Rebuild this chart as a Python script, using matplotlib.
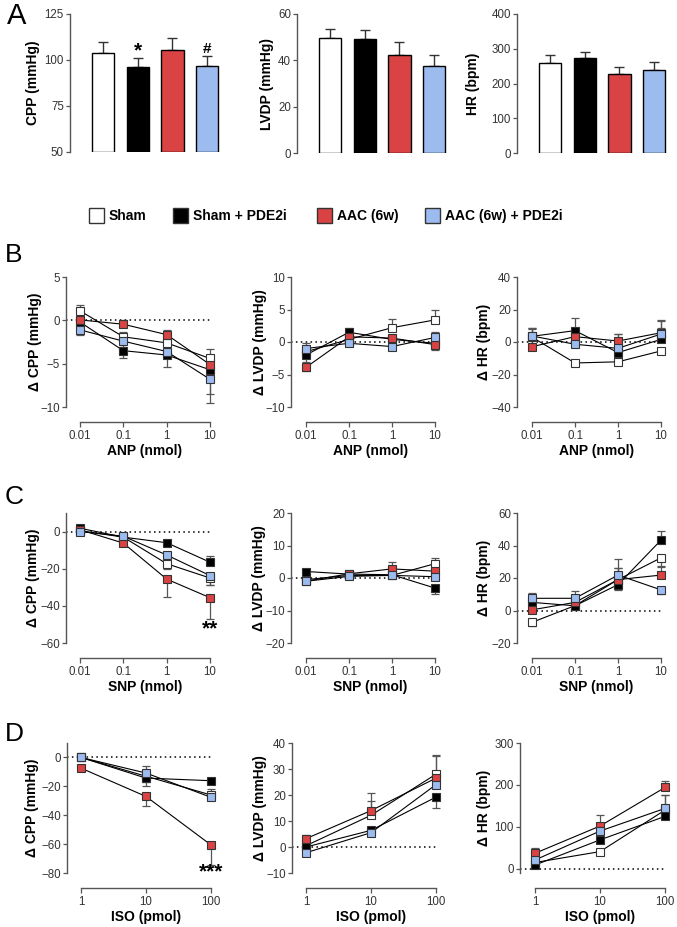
import numpy as np
import matplotlib
matplotlib.use('Agg')
import matplotlib.pyplot as plt
from matplotlib.patches import Rectangle

plt.rcParams['font.family'] = ['Liberation Sans', 'DejaVu Sans']

# ---------------- data ----------------
groups = ['Sham', 'Sham + PDE2i', 'AAC (6w)', 'AAC (6w) + PDE2i']
colors = ['#ffffff', '#000000', '#d94343', '#9cbcf0']

# Panel A (baseline), mean and SEM
A_cpp = [104, 96, 105.5, 96.5]
A_cpp_sem = [6, 5, 6.5, 5.5]
A_lvdp = [49.5, 49, 42.5, 37.5]
A_lvdp_sem = [4, 4, 5.5, 5]
A_hr = [258, 272, 226, 240]
A_hr_sem = [25, 18, 22, 22]

anp_doses = [0.01, 0.1, 1, 10]
snp_doses = [0.01, 0.1, 1, 10]
iso_doses = [1, 10, 100]
nmol_labels = ['0.01', '0.1', '1', '10']
pmol_labels = ['1', '10', '100']

# signed error: positive = bar drawn upward, negative = downward
# Panel B: ANP
B_cpp = [[1.1, -1.9, -2.6, -4.4], [-0.2, -3.5, -4.0, -5.7],
         [0.05, -0.45, -1.65, -5.1], [-1.1, -2.4, -3.6, -6.8]]
B_cpp_err = [[0.7, 0.6, 0.6, 1.1], [-0.5, -0.9, -1.4, -2.8],
             [0.4, 0.5, 0.5, 0.6], [-0.6, -0.7, -0.8, -2.7]]
B_lvdp = [[-1.5, 0.4, 2.2, 3.4], [-2.0, 1.5, 0.4, -0.2],
          [-3.9, 0.8, 0.6, -0.4], [-1.0, -0.2, -0.7, 0.7]]
B_lvdp_err = [[0.6, 0.5, 1.3, 1.6], [-1.0, 0.6, 0.5, -0.7],
              [-0.6, 0.5, 0.5, -0.8], [0.8, 0.4, -0.5, 0.9]]
B_hr = [[3.0, -12.9, -12.2, -5.5], [3.5, 7.0, -6.5, 1.6],
        [-2.9, 3.3, 0.6, 5.7], [3.7, -1.4, -3.9, 4.9]]
B_hr_err = [[5, 1.5, 1.5, 2], [5, 7.5, -2, 7],
            [-1.5, 5, 4.5, 7.5], [5, 3, 9, 8.5]]

# Panel C: SNP
C_cpp = [[0.5, -3.0, -17.3, -25.0], [1.8, -3.0, -6.0, -16.5],
         [1.0, -6.2, -25.6, -35.6], [0.0, -2.5, -12.6, -23.7]]
C_cpp_err = [[0.8, -1.0, -3.0, -4.0], [0.7, -0.8, -1.5, 3.5],
             [0.8, -1.0, -9.6, -11.6], [-1.0, -1.0, -3.5, -5.0]]
C_lvdp = [[-0.5, 0.8, 0.8, 4.4], [2.0, 1.2, 1.0, -3.1],
          [-1.0, 1.3, 2.8, 2.1], [-1.0, 0.5, 0.8, 0.4]]
C_lvdp_err = [[0.6, 0.5, 0.6, 1.7], [0.6, 0.5, 0.6, -1.8],
              [-0.6, 0.5, 2.0, 1.0], [-0.6, 0.5, -0.6, -0.5]]
C_hr = [[-7.3, 3.0, 19.0, 32.4], [5.0, 2.9, 15.9, 43.3],
        [0.4, 5.0, 19.0, 21.8], [7.5, 7.5, 21.8, 12.7]]
C_hr_err = [[-2.5, 2, 7, -5], [3, -1.5, -3.5, 5.5],
            [3, 3, 7, 5], [3.5, 4.5, 10, -2.5]]

# Panel D: ISO
D_cpp = [[0.0, -13.0, -26.0], [0.0, -14.3, -16.1],
         [-7.4, -27.0, -60.6], [0.0, -10.8, -27.6]]
D_cpp_err = [[-0.8, -7.0, 4.0], [-0.8, -3.0, -1.5],
             [-1.0, -6.4, -13.6], [0.8, 4.8, 3.0]]
D_lvdp = [[0.5, 12.2, 28.0], [0.0, 6.4, 19.2],
          [3.2, 14.0, 26.5], [-2.2, 5.5, 24.0]]
D_lvdp_err = [[1, 5.5, 7.5], [1, -1.0, -4.1],
              [1.5, 6.9, 8.5], [-1, -1, 5]]
D_hr = [[15, 41, 140], [9, 69, 125], [37, 102, 194], [21, 90, 144]]
D_hr_err = [[4, -5, 35], [-3, -8, -5], [13, 26, 15], [5, 10, 33]]

# ---------------- figure ----------------
W, H = 677, 927
fig = plt.figure(figsize=(W / 100, H / 100), dpi=100)
PT = 0.72  # points per pixel
SPINE_C = '#555555'
TEXT_C = '#333333'


def px_axes(l, t, r, b):
    return fig.add_axes([l / W, 1 - b / H, (r - l) / W, (b - t) / H])


def style_y(ax):
    ax.tick_params(axis='y', length=4 * PT, width=0.9, color=SPINE_C,
                   labelsize=8.3, labelcolor=TEXT_C, pad=1.5)
    ax.spines['left'].set_color(SPINE_C)
    ax.spines['left'].set_linewidth(1.0)
    for s in ['top', 'right']:
        ax.spines[s].set_visible(False)


def bar_panel(l, t, b, vals, sems, ylim, yticks, ylabel, label_x):
    spacing = 34.7
    first = 33
    r = l + 160
    ax = px_axes(l, t, r, b)
    x = np.arange(len(vals))
    ax.set_xlim(-first / spacing, (r - l - first) / spacing)
    ax.set_ylim(*ylim)
    heights = np.array(vals) - ylim[0]
    ax.bar(x, heights, bottom=ylim[0], width=0.64, color=colors,
           edgecolor='black', linewidth=1.0, zorder=3)
    ax.errorbar(x, vals, yerr=[np.zeros(len(vals)), sems], fmt='none',
                ecolor='#333333', elinewidth=1.0, capsize=3.6, capthick=1.0,
                zorder=2, clip_on=False)
    ax.set_yticks(yticks)
    style_y(ax)
    ax.spines['bottom'].set_visible(False)
    ax.set_xticks([])
    ax.set_ylabel(ylabel, fontsize=10, fontweight='bold', va='center')
    ax.yaxis.set_label_coords((label_x - l) / (r - l), 0.5)
    ax.patch.set_alpha(0)
    return ax


def line_panel(l, t, b, x0, x1, axis_y, doses, xlabels, ylim, yticks,
               series, errs, ylabel, xlabel, label_x):
    r = x1 + 12
    ax = px_axes(l, t, r, b)
    ld = np.log10(doses)
    ppd = (x1 - x0) / (ld[-1] - ld[0])
    xl = 10 ** (ld[0] - (x0 - l) / ppd)
    xr = 10 ** (ld[-1] + (r - x1) / ppd)
    ax.set_xscale('log')
    ax.set_xlim(xl, xr)
    ax.set_ylim(*ylim)
    ax.plot([xl, doses[-1]], [0, 0], ls=(0, (1, 2.2)), color='black',
            lw=1.1, zorder=1)
    for i, (vals, e) in enumerate(zip(series, errs)):
        e = np.array(e, dtype=float)
        lo = np.where(e < 0, -e, 0)
        hi = np.where(e > 0, e, 0)
        ax.errorbar(doses, vals, yerr=[lo, hi], fmt='none', ecolor='#555555',
                    elinewidth=0.9, capsize=2.8, capthick=0.9, zorder=2)
        ax.plot(doses, vals, '-', color='black', lw=0.8, zorder=3)
        ax.plot(doses, vals, 's', ms=5.9, mfc=colors[i], mec='#333333',
                mew=0.8, zorder=4 + i)
    ax.set_yticks(yticks)
    style_y(ax)
    ax.set_xticks(doses)
    ax.set_xticklabels(xlabels)
    ax.minorticks_off()
    ax.xaxis.set_minor_locator(matplotlib.ticker.NullLocator())
    ax.tick_params(axis='x', length=5 * PT, width=0.9, color=SPINE_C,
                   labelsize=8.3, labelcolor=TEXT_C, pad=2)
    ax.spines['bottom'].set_position(('outward', (axis_y - b) * PT))
    ax.spines['bottom'].set_bounds(doses[0], doses[-1])
    ax.spines['bottom'].set_color(SPINE_C)
    ax.spines['bottom'].set_linewidth(1.0)
    ax.set_ylabel(ylabel, fontsize=10, fontweight='bold', va='center')
    ax.yaxis.set_label_coords((label_x - l) / (r - l), 0.5)
    ax.set_xlabel(xlabel, fontsize=10, fontweight='bold', va='center')
    ax.xaxis.set_label_coords(((x0 + x1) / 2 - l) / (r - l),
                              -(axis_y + 29 - b) / (b - t))
    ax.patch.set_alpha(0)
    return ax


# ---- Panel A ----
axA1 = bar_panel(70, 14, 152, A_cpp, A_cpp_sem, (50, 125), [50, 75, 100, 125],
                 'CPP (mmHg)', 33)
axA1.text(1, 104.8, '*', ha='center', va='center', fontsize=15,
          fontweight='bold')
axA1.text(3, 106.0, '#', ha='center', va='center', fontsize=11,
          fontweight='bold')
bar_panel(297, 14, 153, A_lvdp, A_lvdp_sem, (0, 60), [0, 20, 40, 60],
          'LVDP (mmHg)', 267)
bar_panel(517, 14, 153, A_hr, A_hr_sem, (0, 400), [0, 100, 200, 300, 400],
          'HR (bpm)', 473)

# ---- Legend ----
lg = fig.add_axes([0, 0, 1, 1])
lg.set_xlim(0, W)
lg.set_ylim(H, 0)
lg.axis('off')
lg.set_zorder(-1)
sq_x = [89, 173, 317, 425]
tx_x = [109, 193, 337, 445]
for i in range(4):
    lg.add_patch(Rectangle((sq_x[i], 208), 15, 15, facecolor=colors[i],
                           edgecolor='#333333', lw=1.0))
    lg.text(tx_x[i], 215.5, groups[i], ha='left', va='center', fontsize=10,
            fontweight='bold')

# ---- Panel B (ANP) ----
line_panel(66, 277, 407, 80, 210, 422, anp_doses, nmol_labels, (-10, 5),
           [-10, -5, 0, 5], B_cpp, B_cpp_err, '\u0394 CPP (mmHg)',
           'ANP (nmol)', 35)
line_panel(291, 277, 407, 306, 435, 422, anp_doses, nmol_labels, (-10, 10),
           [-10, -5, 0, 5, 10], B_lvdp, B_lvdp_err, '\u0394 LVDP (mmHg)',
           'ANP (nmol)', 260)
line_panel(517, 277, 407, 532, 661, 422, anp_doses, nmol_labels, (-40, 40),
           [-40, -20, 0, 20, 40], B_hr, B_hr_err, '\u0394 HR (bpm)',
           'ANP (nmol)', 484)

# ---- Panel C (SNP) ----
axC1 = line_panel(66, 513, 643, 80, 210, 658, snp_doses, nmol_labels,
                  (-60, 10), [-60, -40, -20, 0], C_cpp, C_cpp_err,
                  '\u0394 CPP (mmHg)', 'SNP (nmol)', 33)
axC1.text(10, -52.5, '**', ha='center', va='center', fontsize=15,
          fontweight='bold')
line_panel(291, 513, 643, 306, 435, 658, snp_doses, nmol_labels, (-20, 20),
           [-20, -10, 0, 10, 20], C_lvdp, C_lvdp_err, '\u0394 LVDP (mmHg)',
           'SNP (nmol)', 259)
line_panel(517, 513, 643, 532, 661, 658, snp_doses, nmol_labels, (-20, 60),
           [-20, 0, 20, 40, 60], C_hr, C_hr_err, '\u0394 HR (bpm)',
           'SNP (nmol)', 484)

# ---- Panel D (ISO) ----
axD1 = line_panel(67, 743, 873, 81, 211, 888, iso_doses, pmol_labels,
                  (-80, 10), [-80, -60, -40, -20, 0], D_cpp, D_cpp_err,
                  '\u0394 CPP (mmHg)', 'ISO (pmol)', 32)
axD1.text(100, -79.5, '***', ha='center', va='center', fontsize=15,
          fontweight='bold')
line_panel(292, 743, 873, 306, 436, 888, iso_doses, pmol_labels, (-10, 40),
           [-10, 0, 10, 20, 30, 40], D_lvdp, D_lvdp_err, '\u0394 LVDP (mmHg)',
           'ISO (pmol)', 260)
line_panel(520, 743, 873, 535, 665, 888, iso_doses, pmol_labels, (-10, 300),
           [0, 100, 200, 300], D_hr, D_hr_err, '\u0394 HR (bpm)',
           'ISO (pmol)', 484)

# ---- Panel letters ----
fig.text(7 / W, 1 - 16 / H, 'A', fontsize=21, ha='left', va='center')
fig.text(5 / W, 1 - 255 / H, 'B', fontsize=19, ha='left', va='center')
fig.text(5 / W, 1 - 497 / H, 'C', fontsize=19, ha='left', va='center')
fig.text(5 / W, 1 - 734 / H, 'D', fontsize=19, ha='left', va='center')

fig.savefig('out.png', dpi=100)
